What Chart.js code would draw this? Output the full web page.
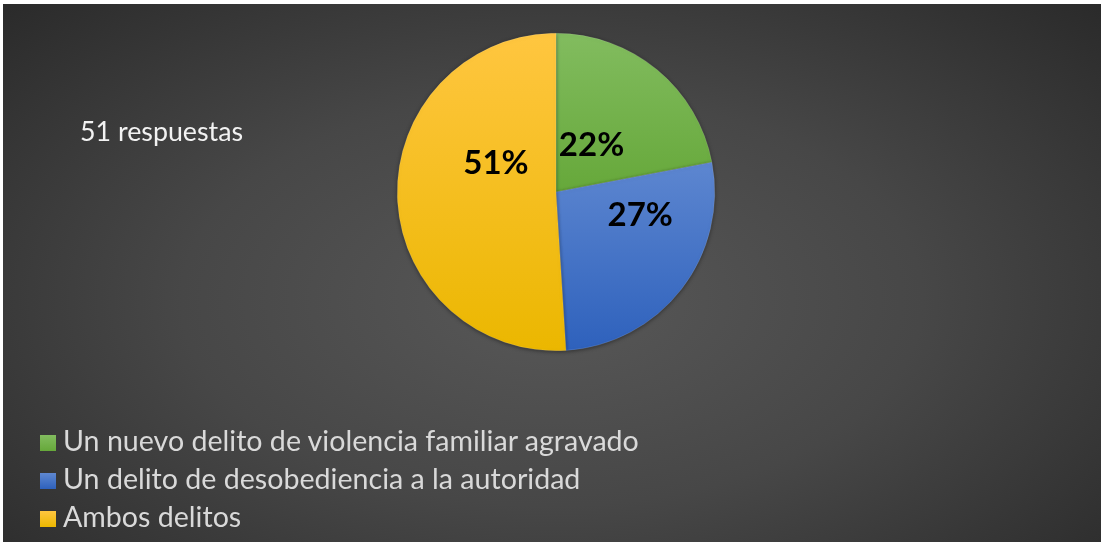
<!DOCTYPE html>
<html>
<head>
<meta charset="utf-8">
<script src="https://cdn.jsdelivr.net/npm/chart.js@4/dist/chart.umd.min.js"></script>
<style>
    html, body {
        margin: 0;
        padding: 0;
        background: #ffffff;
        width: 1101px;
        height: 542px;
        overflow: hidden;
    }
    #frame {
        position: absolute;
        left: 3px;
        top: 4px;
        width: 1098px;
        height: 538px;
        background: radial-gradient(ellipse 75% 85% at 50% 55%, #585858 0%, #474747 45%, #262626 100%);
        font-family: Lato, "Open Sans", sans-serif;
    }
    #chart-wrap {
        position: absolute;
        left: 0;
        top: 0;
        width: 1098px;
        height: 538px;
    }
    #subtitle {
        position: absolute;
        left: 77px;
        top: 111px;
        font-size: 26.8px;
        line-height: 32px;
        color: #f2f2f2;
        white-space: nowrap;
    }
    #legend {
        position: absolute;
        left: 37px;
        top: 417px;
        margin: 0;
        padding: 0;
        list-style: none;
    }
    #legend li {
        height: 38px;
        line-height: 38px;
        font-size: 28.6px;
        color: #d9d9d9;
        white-space: nowrap;
    }
    #legend span.box {
        display: inline-block;
        width: 16px;
        height: 16px;
        margin-right: 7px;
        vertical-align: 0px;
    }
</style>
</head>
<body>
<div id="frame">
    <div id="chart-wrap"><canvas id="pie"></canvas></div>
    <div id="subtitle"></div>
    <ul id="legend"></ul>
</div>
<script>
// Data
const categories = [
    'Un nuevo delito de violencia familiar agravado',
    'Un delito de desobediencia a la autoridad',
    'Ambos delitos'
];
const percentages = [22, 27, 51];
const subtitleText = '51 respuestas';

// Colors (top -> bottom of each slice)
const sliceColors = [
    ['#82bc5f', '#66a83a'],
    ['#5f88d1', '#2e61bc'],
    ['#ffc640', '#ebb700']
];
const swatchColors = ['#70ad47', '#4472c4', '#ffc000'];

// gradient stops along the full pie height, per slice
const gradientRanges = [[0, 0.5], [0.38, 1], [0, 1]];

// label placement inside each slice: [fraction of angle span, fraction of radius]
const labelPlacement = [[0.47, 0.37], [0.27, 0.55], [0.65, 0.42]];

function sliceFill(context) {
    const chart = context.chart;
    const area = chart.chartArea;
    if (!area) return swatchColors[context.dataIndex];
    const i = context.dataIndex;
    const size = Math.min(area.right - area.left, area.bottom - area.top);
    const cy = (area.top + area.bottom) / 2;
    const top = cy - size / 2;
    const [from, to] = gradientRanges[i];
    const g = chart.ctx.createLinearGradient(0, top + from * size, 0, top + to * size);
    g.addColorStop(0, sliceColors[i][0]);
    g.addColorStop(1, sliceColors[i][1]);
    return g;
}

const pieLabels = {
    id: 'pieLabels',
    afterDatasetsDraw(chart) {
        const ctx = chart.ctx;
        const meta = chart.getDatasetMeta(0);
        ctx.save();
        ctx.font = 'bold 33px Lato, "Open Sans", sans-serif';
        ctx.fillStyle = '#000000';
        ctx.textAlign = 'center';
        ctx.textBaseline = 'middle';
        meta.data.forEach((arc, i) => {
            const { x, y, startAngle, endAngle, outerRadius } = arc.getProps(['x', 'y', 'startAngle', 'endAngle', 'outerRadius'], true);
            const [af, rf] = labelPlacement[i];
            const a = startAngle + (endAngle - startAngle) * af;
            const r = outerRadius * rf;
            ctx.fillText(percentages[i] + '%', x + Math.cos(a) * r, y + Math.sin(a) * r);
        });
        ctx.restore();
    }
};

const pieShadow = {
    id: 'pieShadow',
    beforeDatasetsDraw(chart) {
        const ctx = chart.ctx;
        ctx.save();
        ctx.shadowColor = 'rgba(0, 0, 0, 0.45)';
        ctx.shadowBlur = 4;
        ctx.shadowOffsetX = 0;
        ctx.shadowOffsetY = 1;
    },
    afterDatasetsDraw(chart) {
        chart.ctx.restore();
    }
};

const canvas = document.getElementById('pie');
new Chart(canvas, {
    type: 'pie',
    data: {
        labels: categories,
        datasets: [{
            data: percentages,
            backgroundColor: sliceFill,
            borderColor: 'rgba(255, 255, 255, 0.25)',
            borderWidth: 0.5
        }]
    },
    options: {
        responsive: true,
        maintainAspectRatio: false,
        animation: false,
        layout: {
            padding: { left: 394, top: 29, right: 386, bottom: 191 }
        },
        plugins: {
            legend: { display: false },
            tooltip: { enabled: false }
        }
    },
    plugins: [pieShadow, pieLabels]
});

// Subtitle and legend as text
document.getElementById('subtitle').textContent = subtitleText;
const legendList = document.getElementById('legend');
categories.forEach((name, i) => {
    const li = document.createElement('li');
    const box = document.createElement('span');
    box.className = 'box';
    box.style.background = 'linear-gradient(' + sliceColors[i][0] + ', ' + sliceColors[i][1] + ')';
    li.appendChild(box);
    li.appendChild(document.createTextNode(name));
    legendList.appendChild(li);
});
</script>
</body>
</html>
